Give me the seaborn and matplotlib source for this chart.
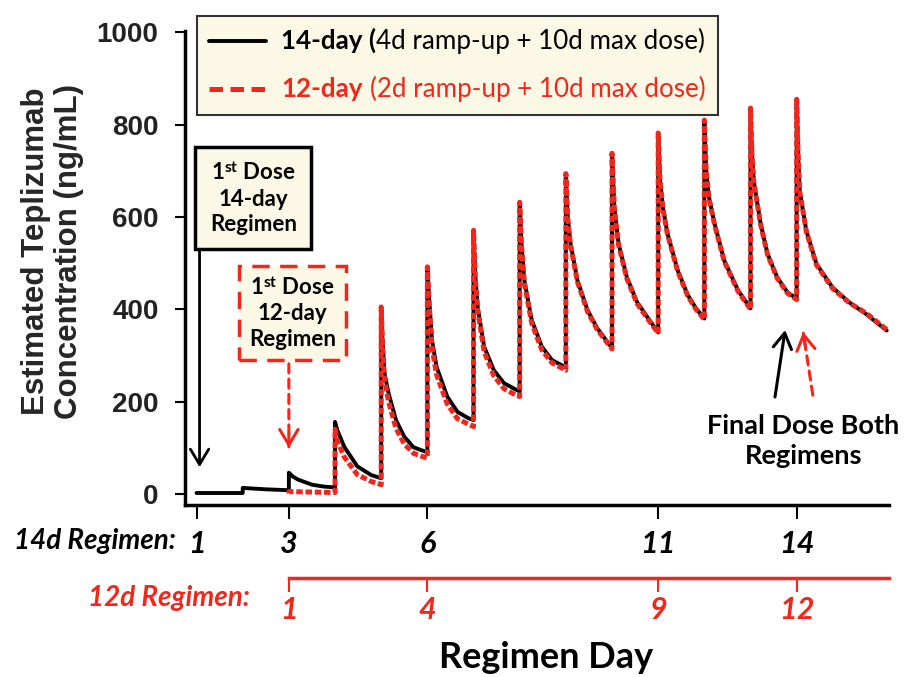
import matplotlib
matplotlib.use("Agg")
import matplotlib.pyplot as plt
import pandas as pd
import seaborn as sns
from matplotlib.lines import Line2D
from matplotlib.offsetbox import AnchoredOffsetbox, HPacker, VPacker, TextArea, DrawingArea

# ---------------- data ----------------
black_day = [1.0, 2.0,
             2.0, 2.5, 3.0,
             3.0, 3.08, 3.2, 3.5, 3.75, 4.0,
             4.0, 4.05, 4.2, 4.48, 4.78, 5.0,
             5.0, 5.03, 5.07, 5.16, 5.32, 5.5, 5.7, 5.92, 6.0,
             6.0, 6.04, 6.1, 6.2, 6.43, 6.65, 6.89, 7.0,
             7.0, 7.04, 7.09, 7.23, 7.44, 7.66, 7.92, 8.0,
             8.0, 8.04, 8.1, 8.26, 8.48, 8.7, 9.0,
             9.0, 9.04, 9.1, 9.25, 9.47, 9.68, 10.0,
             10.0, 10.05, 10.14, 10.32, 10.54, 10.76, 11.0,
             11.0, 11.04, 11.1, 11.2, 11.42, 11.64, 11.82, 12.0,
             12.0, 12.04, 12.1, 12.22, 12.43, 12.73, 13.0,
             13.0, 13.03, 13.07, 13.22, 13.37, 13.58, 13.8, 14.0,
             14.0, 14.03, 14.065, 14.21, 14.43, 14.78, 15.14, 15.5, 15.95]
black_conc = [2, 2,
              13, 10, 8,
              46, 38, 31, 20, 16, 14,
              156, 138, 102, 60, 41, 34,
              405, 330, 262, 218, 160, 124, 101, 93, 91,
              492, 420, 333, 275, 211, 178, 164, 160,
              571, 470, 405, 319, 268, 240, 226, 222,
              632, 540, 463, 377, 319, 290, 274,
              694, 600, 543, 463, 398, 359, 316,
              738, 620, 543, 470, 416, 384, 350,
              782, 680, 622, 565, 485, 431, 402, 380,
              810, 700, 643, 586, 506, 441, 402,
              836, 740, 678, 585, 520, 469, 437, 423,
              855, 740, 657, 570, 498, 447, 415, 390, 354]

red_day = [3.0, 3.0, 3.5, 4.0,
           4.0, 4.05, 4.2, 4.48, 4.78, 5.0,
           5.0, 5.03, 5.07, 5.16, 5.32, 5.5, 5.7, 5.92, 6.0,
           6.0, 6.04, 6.1, 6.2, 6.43, 6.65, 6.89, 7.0,
           7.0, 7.04, 7.09, 7.23, 7.44, 7.66, 7.92, 8.0,
           8.0, 8.04, 8.1, 8.26, 8.48, 8.7, 9.0,
           9.0, 9.04, 9.1, 9.25, 9.47, 9.68, 10.0,
           10.0, 10.05, 10.14, 10.32, 10.54, 10.76, 11.0,
           11.0, 11.04, 11.1, 11.2, 11.42, 11.64, 11.82, 12.0,
           12.0, 12.04, 12.1, 12.22, 12.43, 12.73, 13.0,
           13.0, 13.03, 13.07, 13.22, 13.37, 13.58, 13.8, 14.0,
           14.0, 14.03, 14.065, 14.21, 14.43, 14.78, 15.14, 15.5, 15.95]
red_conc = [1, 5, 4, 3,
            140, 115, 80, 42, 27, 20,
            405, 320, 250, 200, 142, 108, 88, 80, 78,
            492, 410, 318, 258, 195, 163, 151, 146,
            571, 465, 398, 308, 256, 228, 214, 211,
            632, 538, 458, 370, 312, 284, 268,
            694, 598, 540, 460, 395, 356, 314,
            738, 618, 540, 467, 413, 381, 348,
            782, 678, 620, 563, 483, 429, 400, 378,
            810, 698, 641, 584, 504, 439, 400,
            836, 738, 676, 583, 518, 467, 435, 421,
            855, 738, 655, 568, 496, 445, 414, 392, 356]

y_ticks = [0, 200, 400, 600, 800, 1000]
x14_ticks = [1, 3, 6, 11, 14]
x12_ticks = [1, 4, 9, 12]
regimen_offset = 2   # 12-day regimen day 1 == 14-day regimen day 3

RED = "#F2261A"
CREAM = "#FCF8E6"

sns.set_theme(style="ticks")
plt.rcParams["font.family"] = ["Lato", "DejaVu Sans"]
plt.rcParams["mathtext.fontset"] = "custom"
plt.rcParams["mathtext.rm"] = "Lato"
plt.rcParams["mathtext.bf"] = "Lato:bold"
plt.rcParams["mathtext.it"] = "Lato:italic"

fig = plt.figure(figsize=(9.06, 6.77), dpi=100)
fig.patch.set_facecolor("white")
ax = fig.add_axes([185 / 906, 1 - 505 / 677, (889 - 185) / 906, (505 - 31) / 677])
ax.set_facecolor("white")

df14 = pd.DataFrame({"day": black_day, "conc": black_conc})
df12 = pd.DataFrame({"day": red_day, "conc": red_conc})

sns.lineplot(data=df14, x="day", y="conc", ax=ax, color="black", lw=2.8,
             estimator=None, sort=False)
sns.lineplot(data=df12, x="day", y="conc", ax=ax, color=RED, lw=3.6,
             estimator=None, sort=False)
ax.lines[-1].set_linestyle((0, (1.3, 0.55)))

ax.set_xlim(0.75, 16.0)
ax.set_ylim(-24, 1003)
sns.despine(ax=ax)
for s in ("left", "bottom"):
    ax.spines[s].set_linewidth(2.5)
    ax.spines[s].set_color("black")

ax.set_yticks(y_ticks)
ax.set_yticklabels([str(v) for v in y_ticks], fontsize=20, fontweight="bold",
                   family="Liberation Sans", color="#222222")
ax.tick_params(axis="y", length=7, width=1.5, pad=12, color="black")
ax.set_xticks(x14_ticks)
ax.set_xticklabels([str(v) for v in x14_ticks], fontsize=22, fontweight="bold",
                   fontstyle="italic", color="black")
ax.tick_params(axis="x", length=10, width=1.5, pad=8, color="black")
ax.set_xlabel("")
ax.set_ylabel("Estimated Teplizumab\nConcentration (ng/mL)", fontsize=22.5,
              fontweight="bold", family="Liberation Sans", va="center",
              linespacing=1.1)
ax.yaxis.set_label_coords(-0.188, 0.535)

# secondary (12-day regimen) axis
sec = ax.secondary_xaxis(-0.154, functions=(lambda x: x - regimen_offset,
                                            lambda x: x + regimen_offset))
sec.set_xticks(x12_ticks)
sec.set_xticklabels([str(v) for v in x12_ticks], fontsize=22, fontweight="bold",
                    fontstyle="italic", color=RED)
sec.tick_params(axis="x", length=10, width=1.5, pad=3, color=RED)
sec.spines["bottom"].set_color(RED)
sec.spines["bottom"].set_linewidth(2.5)
sec.spines["bottom"].set_bounds(x12_ticks[0], 14)

fig.text(176 / 906, 1 - 541 / 677, "14d Regimen:", ha="right", va="center",
         fontsize=20, fontweight="bold", fontstyle="italic", color="black")
fig.text(250 / 906, 1 - 598 / 677, "12d Regimen:", ha="right", va="center",
         fontsize=20, fontweight="bold", fontstyle="italic", color=RED)
fig.text(546 / 906, 1 - 658 / 677, "Regimen Day", ha="center", va="center",
         fontsize=26, fontweight="bold", color="black")

# legend built from offset boxes (mixed bold / regular text)
def legend_row(line_kw, bold_txt, norm_txt, color, gap):
    da = DrawingArea(52, 14, 0, 0)
    da.add_artist(Line2D([0, 41], [7, 7], **line_kw))
    t1 = TextArea(bold_txt, textprops=dict(color=color, fontweight="bold", fontsize=18.7))
    t2 = TextArea(norm_txt, textprops=dict(color=color, fontsize=18.7))
    txt = HPacker(children=[t1, t2], align="baseline", pad=0, sep=gap)
    return HPacker(children=[da, txt], align="center", pad=0, sep=0)

row1 = legend_row(dict(color="black", lw=2.8), "14-day (", "4d ramp-up + 10d max dose)",
                  "black", 0)
row2 = legend_row(dict(color=RED, lw=3.6, linestyle=(0, (2.7, 1.5))), "12-day",
                  "(2d ramp-up + 10d max dose)", RED, 5)
vp = VPacker(children=[row1, row2], align="left", pad=0, sep=16)
leg = AnchoredOffsetbox(loc="upper left", child=vp, pad=0.55, borderpad=0,
                        frameon=True, bbox_to_anchor=(0.017, 1.032),
                        bbox_transform=ax.transAxes, prop=dict(size=16))
leg.patch.set_boxstyle("square,pad=0")
leg.patch.set_facecolor(CREAM)
leg.patch.set_edgecolor("#333333")
leg.patch.set_linewidth(1.5)
leg.set_clip_on(False)
ax.add_artist(leg)

# annotation boxes and arrows
ax.text(2.23, 641, "1$^{\\mathbf{st}}$ Dose\n14-day\nRegimen", ha="center", va="center",
        fontsize=16, fontweight="bold", linespacing=1.25, color="black",
        bbox=dict(boxstyle="square,pad=0.65", fc=CREAM, ec="black", lw=2.5))
ax.text(3.08, 392, "1$^{\\mathbf{st}}$ Dose\n12-day\nRegimen", ha="center", va="center",
        fontsize=16, fontweight="bold", linespacing=1.25, color="black",
        bbox=dict(boxstyle="square,pad=0.45", fc=CREAM, ec=RED, lw=2.5, ls=(0, (5, 3))))

head = "->,head_length=0.5,head_width=0.3"
ax.annotate("", xy=(1.065, 58), xytext=(1.065, 530),
            arrowprops=dict(arrowstyle=head, color="black", lw=2, mutation_scale=22,
                            shrinkA=0, shrinkB=0))
# red dashed arrows: dashed shaft + solid head
ax.annotate("", xy=(3.0, 102), xytext=(3.0, 282),
            arrowprops=dict(arrowstyle="-", color=RED, lw=2.2, ls=(0, (3, 2)),
                            shrinkA=0, shrinkB=0))
ax.annotate("", xy=(3.0, 100), xytext=(3.0, 130),
            arrowprops=dict(arrowstyle=head, color=RED, lw=2.2, mutation_scale=22,
                            shrinkA=0, shrinkB=0))
ax.annotate("", xy=(13.75, 355), xytext=(13.53, 210),
            arrowprops=dict(arrowstyle=head, color="black", lw=2.2, mutation_scale=22,
                            shrinkA=0, shrinkB=0))
ax.annotate("", xy=(14.145, 348), xytext=(14.35, 214),
            arrowprops=dict(arrowstyle="-", color=RED, lw=2.2, ls=(0, (3, 2)),
                            shrinkA=0, shrinkB=0))
ax.annotate("", xy=(14.14, 351), xytext=(14.185, 322),
            arrowprops=dict(arrowstyle=head, color=RED, lw=2.2, mutation_scale=22,
                            shrinkA=0, shrinkB=0))
ax.text(14.15, 115, "Final Dose Both\nRegimens", ha="center", va="center",
        fontsize=19.5, fontweight="bold", linespacing=1.3, color="black")

fig.savefig("out.png", dpi=100, facecolor="white")
